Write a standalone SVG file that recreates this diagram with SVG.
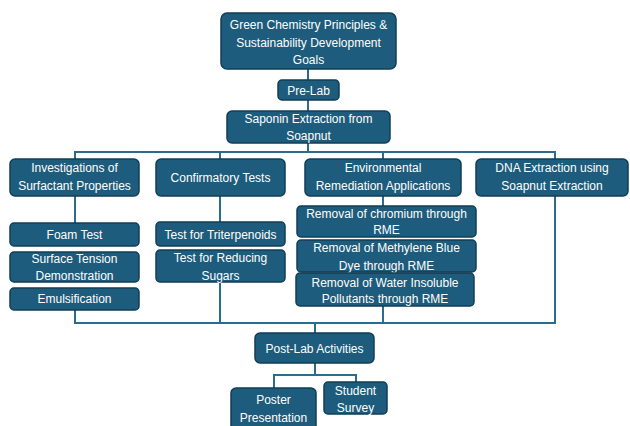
<svg xmlns="http://www.w3.org/2000/svg" width="630" height="426" viewBox="0 0 630 426">
<style>
.b{fill:#1d5c7c;stroke:#123e56;stroke-width:1.5}
.t{fill:#ffffff;font-family:"Liberation Sans",Arial,sans-serif;font-size:12px;text-anchor:middle}
.c{fill:none;stroke:#2a6b8e;stroke-width:2}
</style>
<rect width="630" height="426" fill="#ffffff"/>
<g id="connectors">
<path class="c" d="M308 69V80M308 100V111M308 143V152M75 159V152H555V159M220 152V159M383 152V159"/>
<path class="c" d="M75 196V223M220 196V222M383 196V206"/>
<path class="c" d="M75 310V323H555V196M220 282V323M383 306V323M315 323V333"/>
<path class="c" d="M315 363V375M274 388V375H356V382"/>
</g>
<g id="n-green"><rect class="b" x="221" y="13" width="175" height="56" rx="6"/><text class="t"><tspan x="308.5" y="28.5">Green Chemistry Principles &amp;</tspan><tspan x="308.5" y="47">Sustainability Development</tspan><tspan x="308.5" y="64">Goals</tspan></text></g>
<g id="n-prelab"><rect class="b" x="278" y="80" width="61" height="20" rx="4"/><text class="t" x="308.5" y="94.5">Pre-Lab</text></g>
<g id="n-saponin"><rect class="b" x="227" y="111" width="163" height="32" rx="5"/><text class="t"><tspan x="308.5" y="122.5">Saponin Extraction from</tspan><tspan x="308.5" y="140">Soapnut</tspan></text></g>
<g id="n-invest"><rect class="b" x="10" y="159" width="129" height="37" rx="5"/><text class="t"><tspan x="74.5" y="172">Investigations of</tspan><tspan x="74.5" y="190">Surfactant Properties</tspan></text></g>
<g id="n-confirm"><rect class="b" x="156" y="159" width="129" height="37" rx="5"/><text class="t" x="220.5" y="182">Confirmatory Tests</text></g>
<g id="n-env"><rect class="b" x="305" y="159" width="156" height="37" rx="5"/><text class="t"><tspan x="383" y="172">Environmental</tspan><tspan x="383" y="190">Remediation Applications</tspan></text></g>
<g id="n-dna"><rect class="b" x="476" y="159" width="152" height="37" rx="5"/><text class="t"><tspan x="552" y="172">DNA Extraction using</tspan><tspan x="552" y="190">Soapnut Extraction</tspan></text></g>
<g id="n-foam"><rect class="b" x="10" y="223" width="129" height="23" rx="4"/><text class="t" x="74.5" y="239">Foam Test</text></g>
<g id="n-surface"><rect class="b" x="10" y="252" width="129" height="30" rx="4"/><text class="t"><tspan x="74.5" y="262.5">Surface Tension</tspan><tspan x="74.5" y="279.5">Demonstration</tspan></text></g>
<g id="n-emul"><rect class="b" x="10" y="288" width="129" height="22" rx="4"/><text class="t" x="74.5" y="303">Emulsification</text></g>
<g id="n-triter"><rect class="b" x="156" y="222" width="129" height="24" rx="4"/><text class="t" x="220.5" y="238.5">Test for Triterpenoids</text></g>
<g id="n-sugars"><rect class="b" x="156" y="250" width="129" height="32" rx="4"/><text class="t"><tspan x="220.5" y="261.5">Test for Reducing</tspan><tspan x="220.5" y="279.5">Sugars</tspan></text></g>
<g id="n-chromium"><rect class="b" x="297" y="206" width="179" height="31" rx="4"/><text class="t"><tspan x="386.5" y="217.5">Removal of chromium through</tspan><tspan x="386.5" y="233.5">RME</tspan></text></g>
<g id="n-methylene"><rect class="b" x="297" y="240" width="179" height="32" rx="4"/><text class="t"><tspan x="386.5" y="251.5">Removal of Methylene Blue</tspan><tspan x="386.5" y="269.5">Dye through RME</tspan></text></g>
<g id="n-water"><rect class="b" x="296" y="273" width="178" height="33" rx="4"/><text class="t"><tspan x="385" y="286.5">Removal of Water Insoluble</tspan><tspan x="385" y="302.5">Pollutants through RME</tspan></text></g>
<g id="n-postlab"><rect class="b" x="255" y="333" width="119" height="30" rx="5"/><text class="t" x="314.5" y="352.5">Post-Lab Activities</text></g>
<g id="n-poster"><rect class="b" x="231" y="388" width="85" height="44" rx="5"/><text class="t"><tspan x="273.5" y="403.5">Poster</tspan><tspan x="273.5" y="421.5">Presentation</tspan></text></g>
<g id="n-survey"><rect class="b" x="324" y="382" width="63" height="32" rx="4"/><text class="t"><tspan x="355.5" y="394.5">Student</tspan><tspan x="355.5" y="411.5">Survey</tspan></text></g>
</svg>
